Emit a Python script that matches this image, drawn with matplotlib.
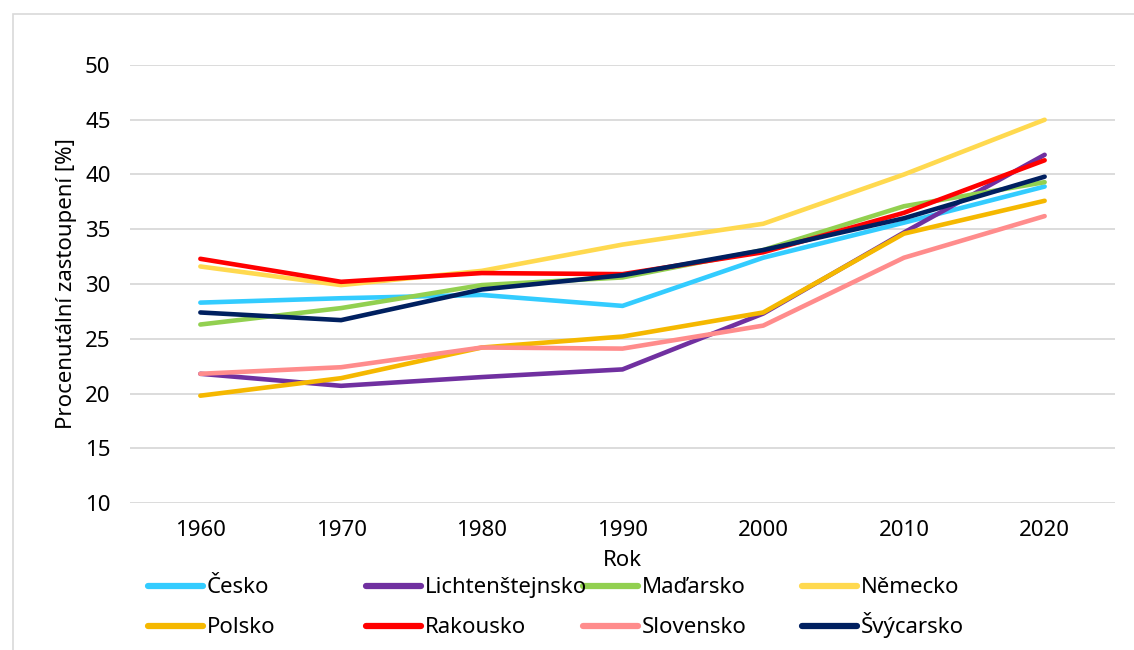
import matplotlib.pyplot as plt
from matplotlib.lines import Line2D
from matplotlib.patches import Rectangle

plt.rcParams['font.family'] = ['Noto Sans', 'DejaVu Sans']

years = [1960, 1970, 1980, 1990, 2000, 2010, 2020]

cesko = [28.3, 28.7, 29.0, 28.0, 32.4, 35.6, 38.9]
lichtenstejnsko = [21.8, 20.7, 21.5, 22.2, 27.3, 34.7, 41.8]
madarsko = [26.3, 27.8, 29.9, 30.6, 33.1, 37.1, 39.3]
nemecko = [31.6, 29.9, 31.2, 33.6, 35.5, 40.0, 45.0]
polsko = [19.8, 21.4, 24.2, 25.2, 27.4, 34.6, 37.6]
rakousko = [32.3, 30.2, 31.0, 30.9, 32.9, 36.5, 41.3]
slovensko = [21.8, 22.4, 24.2, 24.1, 26.2, 32.4, 36.2]
svycarsko = [27.4, 26.7, 29.5, 30.8, 33.1, 36.0, 39.8]

series = [
    ('Česko', cesko, '#33CCFF'),
    ('Lichtenštejnsko', lichtenstejnsko, '#7030A0'),
    ('Maďarsko', madarsko, '#92D050'),
    ('Německo', nemecko, '#FFD94F'),
    ('Polsko', polsko, '#F5B800'),
    ('Rakousko', rakousko, '#FF0000'),
    ('Slovensko', slovensko, '#FF8C8C'),
    ('Švýcarsko', svycarsko, '#002060'),
]

W, H = 1134, 650
fig = plt.figure(figsize=(W / 100, H / 100), dpi=100)
fig.patches.append(Rectangle((13 / W, -0.01), 1.0, 1 - 14 / H + 0.01,
                             transform=fig.transFigure, fill=False,
                             edgecolor='#D9D9D9', linewidth=1.2))

ax = fig.add_axes([130 / W, 1 - 503 / H, (1115 - 130) / W, (503 - 65) / H])

for name, vals, col in series:
    ax.plot(years, vals, color=col, linewidth=3.3, label=name,
            solid_capstyle='round', solid_joinstyle='round', clip_on=False)

ax.set_xlim(1955, 2025)
ax.set_ylim(10, 50)
ax.set_xticks(years)
ax.set_yticks(range(10, 51, 5))
ax.grid(axis='y', color='#D9D9D9', linewidth=1.3)
ax.set_axisbelow(True)
for s in ax.spines.values():
    s.set_visible(False)
ax.tick_params(axis='both', length=0, labelsize=16, colors='black')
ax.tick_params(axis='x', pad=12)
ax.tick_params(axis='y', pad=14)
ax.set_xlabel('Rok', fontsize=16, labelpad=7)
ax.set_ylabel('Procenutální zastoupení [%]', fontsize=16, labelpad=6)

# legend drawn by hand: 4 equal columns, 2 rows (Excel style)
leg_x = [148, 366, 583, 802]
leg_y = [586, 626]
for i, (name, vals, col) in enumerate(series):
    r, c = divmod(i, 4)
    x0, y0 = leg_x[c], leg_y[r]
    fig.add_artist(Line2D([x0 / W, (x0 + 55) / W], [1 - y0 / H, 1 - y0 / H],
                          transform=fig.transFigure, color=col, linewidth=4.5,
                          solid_capstyle='round'))
    fig.text((x0 + 59) / W, 1 - (y0 + 7) / H, name, fontsize=16,
             va='baseline', ha='left')

fig.savefig('out.png', dpi=100)
